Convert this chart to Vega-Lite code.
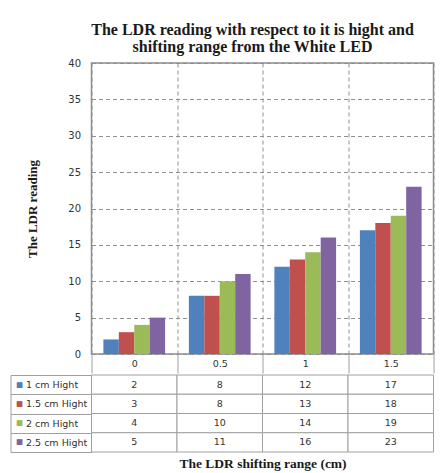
{
  "$schema": "https://vega.github.io/schema/vega-lite/v6.json",
  "background": "white",
  "padding": {"left": 9.5, "top": 21, "right": 5, "bottom": 5},
  "spacing": -11,
  "datasets": {
    "ldr": [
      {"range": "0", "series": "1 cm Hight", "value": 2},
      {"range": "0", "series": "1.5 cm Hight", "value": 3},
      {"range": "0", "series": "2 cm Hight", "value": 4},
      {"range": "0", "series": "2.5 cm Hight", "value": 5},
      {"range": "0.5", "series": "1 cm Hight", "value": 8},
      {"range": "0.5", "series": "1.5 cm Hight", "value": 8},
      {"range": "0.5", "series": "2 cm Hight", "value": 10},
      {"range": "0.5", "series": "2.5 cm Hight", "value": 11},
      {"range": "1", "series": "1 cm Hight", "value": 12},
      {"range": "1", "series": "1.5 cm Hight", "value": 13},
      {"range": "1", "series": "2 cm Hight", "value": 14},
      {"range": "1", "series": "2.5 cm Hight", "value": 16},
      {"range": "1.5", "series": "1 cm Hight", "value": 17},
      {"range": "1.5", "series": "1.5 cm Hight", "value": 18},
      {"range": "1.5", "series": "2 cm Hight", "value": 19},
      {"range": "1.5", "series": "2.5 cm Hight", "value": 23}
    ]
  },
  "config": {
    "axis": {"labelFont": "DejaVu Sans", "titleFont": "Liberation Serif", "titleFontWeight": "bold", "titleColor": "#1a1a1a"},
    "title": {"font": "Liberation Serif", "fontWeight": "bold", "color": "#1a1a1a"}
  },
  "vconcat": [
    {
      "title": {
        "text": ["The LDR reading with respect to it is hight and", "shifting range from the White LED"],
        "fontSize": 16,
        "lineHeight": 17,
        "anchor": "middle",
        "offset": 3,
        "dx": -10
      },
      "width": 342,
      "height": 291,
      "view": {"stroke": "#8c8c8c", "strokeWidth": 1.5},
      "data": {"name": "ldr"},
      "mark": {"type": "bar"},
      "encoding": {
        "x": {
          "field": "range", "type": "nominal", "sort": ["0", "0.5", "1", "1.5"],
          "scale": {"paddingInner": 0, "paddingOuter": 0},
          "axis": {
            "title": null, "labelAngle": 0, "labelFontSize": 9.5, "labelBaseline": "middle", "labelColor": "#333333",
            "tickBand": "extent", "tickSize": 19, "tickColor": "#a0a0a0", "labelPadding": -10,
            "domain": false, "minExtent": 0, "maxExtent": 19,
            "grid": true, "gridDash": [4, 3], "gridColor": "#909090"
          }
        },
        "xOffset": {
          "field": "series", "type": "nominal",
          "sort": ["1 cm Hight", "1.5 cm Hight", "2 cm Hight", "2.5 cm Hight"],
          "scale": {"paddingInner": 0, "paddingOuter": 0.77}
        },
        "y": {
          "field": "value", "type": "quantitative",
          "scale": {"domain": [0, 40]},
          "axis": {
            "title": "The LDR reading", "titleFontSize": 13, "titlePadding": 28,
            "values": [0, 5, 10, 15, 20, 25, 30, 35, 40],
            "labelFontSize": 10, "labelPadding": 11, "labelColor": "#333333", "ticks": false, "domain": false,
            "grid": true, "gridDash": [4, 3], "gridColor": "#909090"
          }
        },
        "color": {
          "field": "series", "type": "nominal",
          "scale": {"domain": ["1 cm Hight", "1.5 cm Hight", "2 cm Hight", "2.5 cm Hight"], "range": ["#4F81BD", "#C0504D", "#9BBB59", "#8064A2"]},
          "legend": null
        }
      }
    },
    {
      "width": 342,
      "height": 77,
      "view": {"stroke": null},
      "data": {"name": "ldr"},
      "encoding": {
        "x": {
          "field": "range", "type": "nominal", "sort": ["0", "0.5", "1", "1.5"],
          "scale": {"paddingInner": 0, "paddingOuter": 0},
          "axis": {
            "title": "The LDR shifting range (cm)", "titleFontSize": 13.5, "titlePadding": 4,
            "labels": false, "ticks": false, "domain": false, "grid": false
          }
        }
      },
      "layer": [
        {
          "mark": {"type": "rect", "fill": "white", "stroke": "#a0a0a0", "strokeWidth": 1},
          "encoding": {
            "y": {
              "field": "series", "type": "nominal",
              "sort": ["1 cm Hight", "1.5 cm Hight", "2 cm Hight", "2.5 cm Hight"],
              "scale": {"paddingInner": 0, "paddingOuter": 0},
              "axis": {
                "title": null, "orient": "left", "offset": 81,
                "ticks": true, "tickBand": "extent", "tickSize": -81, "tickColor": "#a0a0a0",
                "domain": true, "domainColor": "#a0a0a0",
                "labelAlign": "left", "labelPadding": 66, "labelFontSize": 9.5, "labelColor": "#333333", "grid": false
              }
            }
          }
        },
        {
          "mark": {"type": "text", "font": "DejaVu Sans", "fontSize": 9.5, "color": "#333333"},
          "encoding": {
            "y": {
              "field": "series", "type": "nominal",
              "sort": ["1 cm Hight", "1.5 cm Hight", "2 cm Hight", "2.5 cm Hight"],
              "scale": {"paddingInner": 0, "paddingOuter": 0},
              "axis": {
                "title": null, "orient": "left", "ticks": false, "domain": false, "grid": false,
                "labelExpr": "'■'", "labelAlign": "center", "labelPadding": 72.5, "labelFontSize": 7.5,
                "labelColor": {"expr": "datum.value === '1 cm Hight' ? '#4F81BD' : datum.value === '1.5 cm Hight' ? '#C0504D' : datum.value === '2 cm Hight' ? '#9BBB59' : '#8064A2'"}
              }
            },
            "text": {"field": "value", "type": "quantitative"}
          }
        }
      ],
      "resolve": {"axis": {"y": "independent"}}
    }
  ]
}
